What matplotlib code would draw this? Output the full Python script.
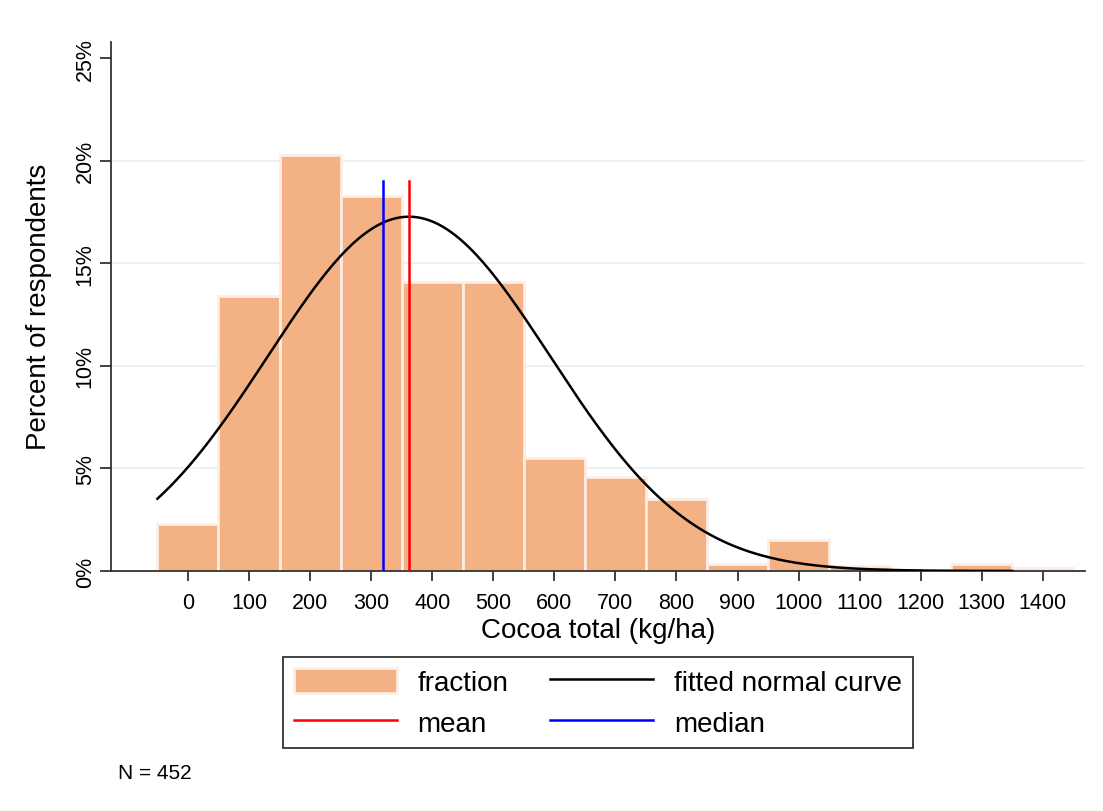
import numpy as np
import matplotlib.pyplot as plt
from matplotlib.patches import Patch
from matplotlib.lines import Line2D

plt.rcParams["font.family"] = ["Liberation Sans", "DejaVu Sans"]

# histogram bins (kg/ha) and percent of respondents
bins = [0, 100, 200, 300, 400, 500, 600, 700, 800, 900, 1000, 1100, 1200, 1300, 1400]
pct = [2.3, 13.4, 20.3, 18.3, 14.1, 14.1, 5.5, 4.6, 3.5, 0.35, 1.5, 0.25, 0.0, 0.35, 0.15]

mean_val = 362
median_val = 320
sd_val = 231
n_obs = 452

fig = plt.figure(figsize=(11.03, 8.12), dpi=100)
ax = fig.add_axes([0.1006, 0.2956, 0.8831, 0.6518])

ax.bar(bins, pct, width=100, color="#F4B183", edgecolor="#FDEDE4", linewidth=2, zorder=2)

# fitted normal curve, scaled to bin width
xs = np.linspace(-50, 1350, 400)
ys = 100 * 100 / (sd_val * np.sqrt(2 * np.pi)) * np.exp(-0.5 * ((xs - mean_val) / sd_val) ** 2)
ax.plot(xs, ys, color="black", lw=1.8, zorder=3)

ax.plot([mean_val, mean_val], [0, 19], color="red", lw=1.8, zorder=4)
ax.plot([median_val, median_val], [0, 19], color="blue", lw=1.8, zorder=4)

ax.set_xlim(-126, 1469)
ax.set_ylim(0, 25.8)
ax.set_xticks(bins)
ax.set_xticklabels([str(b) for b in bins], fontsize=15.5)
yt = [0, 5, 10, 15, 20, 25]
ax.set_yticks(yt)
ax.set_yticklabels([f"{v}%" for v in yt], fontsize=15.5, rotation=90, va="center")
for v in yt[1:-1]:
    ax.axhline(v, color="#E8F0F2", lw=1.2, zorder=1)

for s in ["top", "right"]:
    ax.spines[s].set_visible(False)
for s in ["left", "bottom"]:
    ax.spines[s].set_color("#333333")
    ax.spines[s].set_linewidth(1.3)
ax.tick_params(axis="x", length=7, width=1.3, color="#333333", pad=8)
ax.tick_params(axis="y", length=8, width=1.3, color="#333333", pad=3)

ax.set_xlabel("Cocoa total (kg/ha)", fontsize=20, labelpad=3)
ax.set_ylabel("Percent of respondents", fontsize=20, labelpad=16)

handles = [
    Patch(facecolor="#F4B183", edgecolor="#FDEDE4", linewidth=2),
    Line2D([], [], color="red", lw=1.8),
    Line2D([], [], color="black", lw=1.8),
    Line2D([], [], color="blue", lw=1.8),
]
labels = ["fraction", "mean", "fitted normal curve", "median"]
leg = fig.legend(handles, labels, ncol=2, loc="center", bbox_to_anchor=(0.542, 0.1336),
                 fontsize=20, frameon=True, fancybox=False, edgecolor="black",
                 handlelength=3.7, handleheight=1.0, handletextpad=0.75,
                 columnspacing=1.5, labelspacing=0.45, borderpad=0.4)
leg.get_frame().set_linewidth(1.3)

fig.text(0.107, 0.041, f"N = {n_obs}", fontsize=15)

fig.savefig("out.png", dpi=100, facecolor="white")
